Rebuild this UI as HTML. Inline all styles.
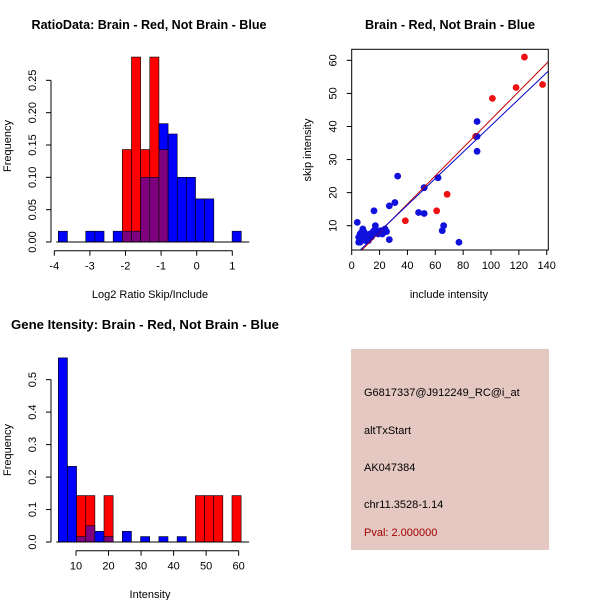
<!DOCTYPE html>
<html><head><meta charset="utf-8"><style>
body{margin:0;background:#fff}
svg{display:block;font-family:"Liberation Sans",sans-serif}
</style></head><body>
<svg id="s" width="600" height="600" viewBox="0 0 600 600" xmlns="http://www.w3.org/2000/svg">
<rect width="600" height="600" fill="#fff"/>
<text x="149" y="29" text-anchor="middle" font-weight="bold" font-size="12.5" textLength="235" lengthAdjust="spacingAndGlyphs">RatioData: Brain - Red, Not Brain - Blue</text>
<text x="450" y="29" text-anchor="middle" font-weight="bold" font-size="12.5" textLength="170" lengthAdjust="spacingAndGlyphs">Brain - Red, Not Brain - Blue</text>
<text x="145" y="329" text-anchor="middle" font-weight="bold" font-size="12.5" textLength="268" lengthAdjust="spacingAndGlyphs">Gene Itensity: Brain - Red, Not Brain - Blue</text>
<text x="150" y="298" text-anchor="middle" font-size="11">Log2 Ratio Skip/Include</text>
<text transform="translate(11,146) rotate(-90)" text-anchor="middle" font-size="11">Frequency</text>
<text x="449" y="298" text-anchor="middle" font-size="11">include intensity</text>
<text transform="translate(311,150) rotate(-90)" text-anchor="middle" font-size="11">skip intensity</text>
<text x="150" y="598" text-anchor="middle" font-size="11">Intensity</text>
<text transform="translate(11,450) rotate(-90)" text-anchor="middle" font-size="11">Frequency</text>
<g id="p1"></g>
<g id="p2"></g>
<g id="p3"></g>
<g>
<rect x="351" y="349" width="198" height="201" fill="#e5c8c2"/>
<text x="364" y="396" font-size="11">G6817337@J912249_RC@i_at</text>
<text x="364" y="434" font-size="11">altTxStart</text>
<text x="364" y="471" font-size="11">AK047384</text>
<text x="364" y="508" font-size="11">chr11.3528-1.14</text>
<text x="364" y="536" font-size="11" fill="#a00000">Pval: 2.000000</text>
</g>
</svg>
<script>
// Ratio histogram data
const ratioBinStart = -3.888;
const ratioBinWidth = 0.257;
const ratioBlue = [0.0167,0,0,0.0167,0.0167,0,0.0167,0.0167,0.0167,0.10,0.10,0.183,0.167,0.10,0.10,0.0667,0.0667,0,0,0.0167];
const ratioRed  = [0,0,0,0,0,0,0,0.143,0.286,0.143,0.286,0.143,0,0,0,0,0,0,0,0];
const ratioXTicks = [-4,-3,-2,-1,0,1];
const ratioYTicks = ["0.00","0.05","0.10","0.15","0.20","0.25"];
// Intensity histogram data
const intBinStart = 4.56;
const intBinWidth = 2.81;
const intBlue = [0.567,0.233,0.0167,0.05,0.033,0.0167,0,0.033,0,0.0167,0,0.0167,0,0.0167,0,0,0,0,0,0];
const intRed  = [0,0,0.143,0.143,0,0.143,0,0,0,0,0,0,0,0,0,0.143,0.143,0.143,0,0.143];
const intXTicks = [10,20,30,40,50,60];
const intYTicks = ["0.0","0.1","0.2","0.3","0.4","0.5"];
// Scatter data
const redX = [38.5,61,68.5,101,118,124,137,52,89];
const redY = [11.5,14.5,19.5,48.5,51.8,61,52.7,21.5,37];
const blueX = [4,90,90,90,62,52,33,31,27,16,48,52,66,65,77,27,24,25,5,6,7,8,6,7,8,9,10,10,11,12,13,14,15,16,17,17,18,19,20,21,9,5,6,12,14,22];
const blueY = [11,41.5,37,32.5,24.5,21.5,25,17,16,14.5,14,13.7,10,8.5,5,5.8,9,8.2,5,6,5.5,7,7.5,8,9,6,5.5,7,6.5,7,7.5,6.5,8,8.5,10,9,8,7.5,8,8.5,8,6.5,5,5.5,7,7.5];
const redFit = [-0.46,0.4255];
const blueFit = [0.2,0.4007];
const scXTicks = [0,20,40,60,80,100,120,140];
const scYTicks = [10,20,30,40,50,60];

const NS="http://www.w3.org/2000/svg";
function mk(parent,tag,attrs,text){const e=document.createElementNS(NS,tag);for(const k in attrs)e.setAttribute(k,attrs[k]);if(text!==undefined)e.textContent=text;parent.appendChild(e);return e;}

function hist(g,start,w,blue,red,xs,ys,xticks,yticks,xAxisY,yAxisX){
  for(let i=0;i<blue.length;i++){
    const x0=xs(start+i*w),x1=xs(start+(i+1)*w);
    const b=blue[i],r=red[i];
    const hi=Math.max(b,r),lo=Math.min(b,r);
    if(hi>0){
      const e=mk(g,'rect',{x:x0,y:ys(hi),width:x1-x0,height:ys(0)-ys(hi),fill:b>=r?'#0000ff':'#ff0000',stroke:'#000','stroke-width':0.6});
      
      
    }
    if(lo>0){
      const e=mk(g,'rect',{x:x0,y:ys(lo),width:x1-x0,height:ys(0)-ys(lo),fill:'#7f007f',stroke:'#000','stroke-width':0.6});
      
      
    }
  }
  mk(g,'line',{x1:xs(start)-2,x2:xs(start+blue.length*w)+8,y1:ys(0),y2:ys(0),stroke:'#000'});
  mk(g,'line',{x1:xs(xticks[0]),x2:xs(xticks[xticks.length-1]),y1:xAxisY,y2:xAxisY,stroke:'#000'});
  xticks.forEach(t=>{mk(g,'line',{x1:xs(t),x2:xs(t),y1:xAxisY,y2:xAxisY+5,stroke:'#000'});
    const e=mk(g,'text',{x:xs(t),y:xAxisY+19,'text-anchor':'middle','font-size':11},t);
    
    });
  const yv=yticks.map(Number);
  mk(g,'line',{x1:yAxisX,x2:yAxisX,y1:ys(yv[0]),y2:ys(yv[yv.length-1]),stroke:'#000'});
  yticks.forEach((t,i)=>{const y=ys(yv[i]);mk(g,'line',{x1:yAxisX-5,x2:yAxisX,y1:y,y2:y,stroke:'#000'});
    const e=mk(g,'text',{transform:`translate(${yAxisX-15},${y}) rotate(-90)`,'text-anchor':'middle','font-size':11},t);
    
    });
}
// Panel 1
{const xs=v=>54.3+(v+4)*35.6, ys=v=>242-v*646.7;
 hist(document.getElementById('p1'),ratioBinStart,ratioBinWidth,ratioBlue,ratioRed,xs,ys,ratioXTicks,ratioYTicks,250.7,51);}
// Panel 3
{const xs=v=>76+(v-10)*3.253, ys=v=>542-v*324.7;
 hist(document.getElementById('p3'),intBinStart,intBinWidth,intBlue,intRed,xs,ys,intXTicks,intYTicks,550.7,51);}
// Panel 2
{const g=document.getElementById('p2');
 const xs=v=>351.7+v*1.393, ys=v=>225.7-(v-10)*3.307;
 const L=351.7,R=548.3,T=49.3,B=250;
 mk(g,'defs',{}).innerHTML='<clipPath id="cp"><rect x="351.7" y="49.3" width="196.6" height="200.7"/></clipPath>';
 const pts=mk(g,'g',{'clip-path':'url(#cp)'});
 for(let i=0;i<redX.length;i++){const c=mk(pts,'circle',{cx:xs(redX[i]),cy:ys(redY[i]),r:3.4,fill:'#ee1111'});
   
   }
 for(let i=0;i<blueX.length;i++){const c=mk(pts,'circle',{cx:xs(blueX[i]),cy:ys(blueY[i]),r:3.4,fill:'#1111dd'});
   
   }
 const fl=(f,col,nm)=>{const e=mk(pts,'line',{x1:xs(0),y1:ys(f[0]),x2:xs(145),y2:ys(f[0]+f[1]*145),stroke:col,'stroke-width':1});
   
   };
 fl(redFit,'#cc0000','brain-fit-line');fl(blueFit,'#0000cc','not-brain-fit-line');
 mk(g,'rect',{x:L,y:T,width:R-L,height:B-T,fill:'none',stroke:'#000'});
 scXTicks.forEach(t=>{mk(g,'line',{x1:xs(t),x2:xs(t),y1:B,y2:B+5,stroke:'#000'});
   const e=mk(g,'text',{x:xs(t),y:B+19,'text-anchor':'middle','font-size':11},t);
   
   });
 scYTicks.forEach(t=>{mk(g,'line',{x1:L-5,x2:L,y1:ys(t),y2:ys(t),stroke:'#000'});
   const e=mk(g,'text',{transform:`translate(${L-15},${ys(t)}) rotate(-90)`,'text-anchor':'middle','font-size':11},t);
   
   });
}
</script>
</body></html>
